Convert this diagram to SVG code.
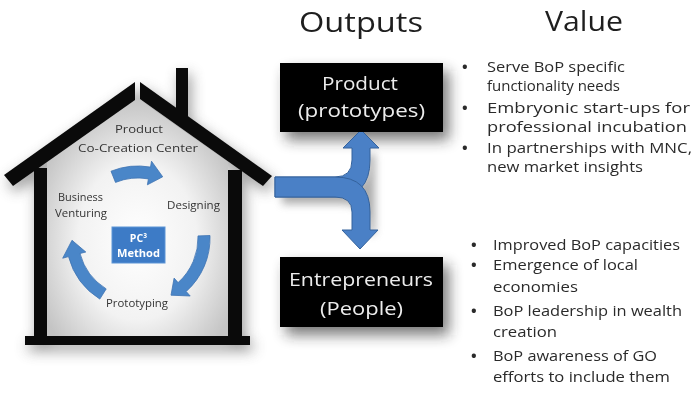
<svg xmlns="http://www.w3.org/2000/svg" width="693" height="394" viewBox="0 0 693 394">
<defs>
<filter id="blur" x="-30%" y="-30%" width="160%" height="160%"><feGaussianBlur stdDeviation="7"/></filter>
<filter id="blur2" x="-30%" y="-30%" width="160%" height="160%"><feGaussianBlur stdDeviation="4"/></filter>
<radialGradient id="inner" cx="0.5" cy="0.6" r="0.6">
<stop offset="0" stop-color="#ffffff"/>
<stop offset="0.55" stop-color="#f2f2f2"/>
<stop offset="1" stop-color="#c4c4c4"/>
</radialGradient>
<style>
.t{font-family:"Open Sans","Liberation Sans",sans-serif;}
.hd{font-size:27px;fill:#1e1e1e;}
.bx{font-size:19px;fill:#ececec;}
.bl{font-size:14px;fill:#2a2a2a;}
.dot{font-size:15px;fill:#2a2a2a;font-weight:bold;}
.hs{font-size:10.5px;fill:#333;}
.pc{font-size:10.5px;fill:#ffffff;font-weight:bold;}
.cyc{fill:#4a86c8;stroke:#3f74b3;stroke-width:0.8;}
.br{fill:#4a80c6;stroke:#34629c;stroke-width:1;}
.blk{fill:#0a0a0a;}
</style>
</defs>
<rect x="0" y="0" width="693" height="394" fill="#ffffff"/>

<g id="shadows" opacity="0.6">
<g filter="url(#blur)" transform="translate(3,6)" fill="#555">
<polygon points="135,82 135,100 13,186 4,175"/>
<polygon points="140,82 272,176 263,186 140,99"/>
<rect x="176" y="68" width="12" height="48"/>
<rect x="34" y="168" width="13" height="170"/>
<rect x="228" y="170" width="14" height="168"/>
<rect x="25" y="336" width="225" height="9"/>
<polygon points="137,100 47,164 47,337 228,337 228,164" fill="#999" opacity="0.5"/>
</g>
<rect x="286" y="71" width="163" height="69" fill="#222" filter="url(#blur)"/>
<rect x="286" y="265" width="163" height="70" fill="#222" filter="url(#blur)"/>
<path d="M279,184 L340,184 Q360,184 364,168 L364,150 L372,150 L372,230 L366,230 Q366,200 340,200 L279,200 Z" fill="#777" filter="url(#blur2)" transform="translate(3,4)"/>
</g>

<g id="house">
<polygon points="137,98 47,162 47,337 228,337 228,162" fill="url(#inner)"/>
<polygon class="blk" points="135,82 135,100 13,186 4,175"/>
<polygon class="blk" points="140,82 272,176 263,186 140,99"/>
<rect class="blk" x="176" y="68" width="12" height="48"/>
<rect class="blk" x="34" y="168" width="13" height="170"/>
<rect class="blk" x="228" y="170" width="14" height="168"/>
<rect class="blk" x="25" y="336" width="225" height="9"/>
<text class="t hs" x="139" y="133" text-anchor="middle" textLength="48" lengthAdjust="spacingAndGlyphs">Product</text>
<text class="t hs" x="78" y="152" textLength="120" lengthAdjust="spacingAndGlyphs">Co-Creation Center</text>
</g>

<g id="cycle">
<path class="cyc" d="M111,171.2 A72,72 0 0,1 150.5,167.1 L151.5,161.2 L162.7,176.8 L147.4,184.8 L148.4,178.9 A60,60 0 0,0 115.5,182.4 Z"/>
<path class="cyc" d="M210,235.5 A72,72 0 0,1 186.2,291.5 L190.2,296 L171,295.2 L174.1,278.1 L178.1,282.6 A60,60 0 0,0 198,235.9 Z"/>
<path class="cyc" d="M99.8,299.1 A72,72 0 0,1 68.5,256.6 L62.7,258.2 L72,240.3 L85.8,252 L80,253.5 A60,60 0 0,0 106.2,288.9 Z"/>
<g id="pc3">
<rect x="112" y="227" width="53" height="36" fill="#3d7bc6" stroke="#5d95d6" stroke-width="1"/>
<text class="t pc" x="138.5" y="242" text-anchor="middle">PC³</text>
<text class="t pc" x="138.5" y="257" text-anchor="middle" textLength="43" lengthAdjust="spacingAndGlyphs">Method</text>
</g>
<text class="t hs" x="58" y="201" textLength="45" lengthAdjust="spacingAndGlyphs">Business</text>
<text class="t hs" x="55" y="217" textLength="52" lengthAdjust="spacingAndGlyphs">Venturing</text>
<text class="t hs" x="167" y="209" textLength="53" lengthAdjust="spacingAndGlyphs">Designing</text>
<text class="t hs" x="106" y="307" textLength="62" lengthAdjust="spacingAndGlyphs">Prototyping</text>
</g>

<g id="connectors">
<path class="br" d="M275,177 L335,177 Q352,177 352,160 L352,148 L343,148 L361,130 L379,148 L370,148 L370,160 Q370,197 335,197 L275,197 Z"/>
<path class="br" d="M275,177 L335,177 Q370,177 370,212 L370,230 L378,230 L360,249 L342,230 L352,230 L352,212 Q352,197 335,197 L275,197 Z"/>
</g>

<g id="headings">
<text class="t hd" x="299" y="32" textLength="124" lengthAdjust="spacingAndGlyphs">Outputs</text>
<text class="t hd" x="545" y="31" textLength="78" lengthAdjust="spacingAndGlyphs">Value</text>
</g>

<g id="product">
<rect x="280" y="63" width="163" height="69" fill="#000"/>
<text class="t bx" x="360" y="90" text-anchor="middle" textLength="76" lengthAdjust="spacingAndGlyphs">Product</text>
<text class="t bx" x="298" y="117" textLength="127" lengthAdjust="spacingAndGlyphs">(prototypes)</text>
</g>

<g id="entrepreneurs">
<rect x="280" y="257" width="163" height="70" fill="#000"/>
<text class="t bx" x="289" y="286" textLength="144" lengthAdjust="spacingAndGlyphs">Entrepreneurs</text>
<text class="t bx" x="320" y="315" textLength="83" lengthAdjust="spacingAndGlyphs">(People)</text>
</g>

<g id="value-product">
<text class="t dot" x="462" y="72">•</text>
<text class="t bl" x="487" y="72" textLength="138" lengthAdjust="spacingAndGlyphs">Serve BoP specific</text>
<text class="t bl" x="487" y="91" textLength="133" lengthAdjust="spacingAndGlyphs">functionality needs</text>
<text class="t dot" x="462" y="113">•</text>
<text class="t bl" x="487" y="113" textLength="203" lengthAdjust="spacingAndGlyphs">Embryonic start-ups for</text>
<text class="t bl" x="487" y="132" textLength="200" lengthAdjust="spacingAndGlyphs">professional incubation</text>
<text class="t dot" x="462" y="153">•</text>
<text class="t bl" x="487" y="153" textLength="205" lengthAdjust="spacingAndGlyphs">In partnerships with MNC,</text>
<text class="t bl" x="487" y="172" textLength="156" lengthAdjust="spacingAndGlyphs">new market insights</text>
</g>

<g id="value-people">
<text class="t dot" x="471" y="250">•</text>
<text class="t bl" x="493" y="250" textLength="187" lengthAdjust="spacingAndGlyphs">Improved BoP capacities</text>
<text class="t dot" x="471" y="270">•</text>
<text class="t bl" x="493" y="270" textLength="145" lengthAdjust="spacingAndGlyphs">Emergence of local</text>
<text class="t bl" x="493" y="292" textLength="85" lengthAdjust="spacingAndGlyphs">economies</text>
<text class="t dot" x="471" y="316">•</text>
<text class="t bl" x="493" y="316" textLength="189" lengthAdjust="spacingAndGlyphs">BoP leadership in wealth</text>
<text class="t bl" x="493" y="337" textLength="64" lengthAdjust="spacingAndGlyphs">creation</text>
<text class="t dot" x="471" y="361">•</text>
<text class="t bl" x="493" y="361" textLength="164" lengthAdjust="spacingAndGlyphs">BoP awareness of GO</text>
<text class="t bl" x="493" y="382" textLength="177" lengthAdjust="spacingAndGlyphs">efforts to include them</text>
</g>
</svg>
